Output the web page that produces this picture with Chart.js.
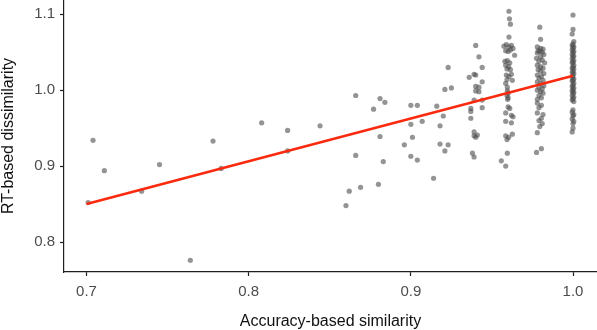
<!DOCTYPE html>
<html>
<head>
<meta charset="utf-8">
<script src="https://cdn.jsdelivr.net/npm/chart.js@4.4.1/dist/chart.umd.min.js"></script>
<style>
  body { margin: 0; background: #fff; }
  canvas { display: block; }
</style>
</head>
<body>
<canvas id="myChart" width="597" height="330"></canvas>
<script>
// tick labels
var xTicks = [0.7, 0.8, 0.9, 1.0];
var yTicks = [0.8, 0.9, 1.0, 1.1];

// scattered participants (accuracy below 0.93)
var sparseX = [0.701,0.704,0.711,0.734,0.745,0.764,0.778,0.783,0.808,0.824,0.824,0.844,0.860,0.862,0.866,0.866,0.869,0.877,0.880,0.881,0.881,0.883,0.884,0.896,0.900,0.900,0.901,0.900,0.904,0.904,0.907,0.914,0.916,0.918,0.918,0.920,0.921,0.921,0.923,0.923,0.925];
var sparseY = [0.852,0.934,0.894,0.867,0.902,0.776,0.933,0.897,0.957,0.947,0.920,0.953,0.848,0.867,0.993,0.914,0.872,0.975,0.876,0.989,0.939,0.906,0.984,0.928,0.980,0.955,0.938,0.913,0.980,0.908,0.959,0.884,0.979,0.953,0.929,0.966,1.001,0.920,0.928,1.030,1.003];

// jittered column around 0.94
var col94X = [0.940,0.942,0.944,0.936,0.939,0.940,0.944,0.940,0.942,0.940,0.942,0.939,0.944,0.937,0.937,0.944,0.937,0.939,0.941,0.940,0.939,0.938,0.939];
var col94Y = [1.059,1.044,1.030,1.017,1.021,1.020,1.011,1.005,1.004,0.999,0.998,0.987,0.987,0.976,0.972,0.977,0.963,0.945,0.941,0.938,0.940,0.917,0.912];

// jittered column around 0.96
var col96X = [0.9605,0.9608,0.9614,0.9605,0.9574,0.9589,0.9605,0.962,0.963,0.9585,0.960,0.9614,0.964,0.958,0.9595,0.961,0.9585,0.9603,0.9593,0.9614,0.9589,0.9605,0.962,0.9593,0.9626,0.9585,0.9595,0.9595,0.960,0.9593,0.960,0.9597,0.960,0.961,0.9585,0.962,0.963,0.9585,0.962,0.9585,0.9603,0.9626,0.9593,0.9595,0.9558,0.9585];
var col96Y = [1.104,1.094,1.087,1.070,1.058,1.060,1.057,1.059,1.055,1.052,1.051,1.053,1.046,1.038,1.039,1.036,1.033,1.031,1.028,1.027,1.020,1.018,1.021,1.014,1.013,1.009,1.004,0.999,0.996,0.993,0.990,0.988,0.978,0.976,0.970,0.967,0.965,0.959,0.957,0.940,0.938,0.942,0.935,0.917,0.907,0.900];

// jittered column around 0.98
var col98X = [0.9795,0.980,0.980,0.9785,0.981,0.978,0.9815,0.9795,0.978,0.982,0.980,0.9775,0.981,0.979,0.9825,0.978,0.980,0.9815,0.9785,0.980,0.982,0.978,0.9805,0.979,0.9815,0.978,0.980,0.982,0.979,0.981,0.978,0.980,0.9815,0.979,0.9805,0.978,0.978,0.9805,0.979,0.978,0.9815,0.9805,0.979,0.981,0.9795,0.978,0.9805,0.9775];
var col98Y = [1.083,1.067,1.055,1.052,1.050,1.057,1.054,1.051,1.049,1.047,1.044,1.042,1.040,1.038,1.036,1.033,1.031,1.029,1.027,1.025,1.022,1.020,1.018,1.016,1.013,1.011,1.009,1.006,1.004,1.002,1.000,0.998,0.996,0.993,0.990,0.988,0.983,0.980,0.977,0.970,0.968,0.963,0.960,0.956,0.952,0.944,0.923,0.918];

// column at 1.0 (perfect accuracy)
var col100X = [1.000,1.000,0.9995,1.0005,1.000,0.9995,1.0005,1.000,0.9995,1.0005,1.000,0.9995,1.0005,1.000,0.9995,1.0005,1.000,0.9995,1.0005,1.000,0.9995,1.0005,1.000,0.9995,1.0005,1.000,0.9995,1.0005,1.000,0.9995,1.0005,1.000,0.9995,1.0005,1.000,0.9995,1.0005,1.000,0.9995,1.0005,1.000,0.9995,1.0005,1.000,0.9995,1.0005,1.000,0.9995,1.0005,1.000,1.000,0.9995];
var col100Y = [1.099,1.080,1.074,1.064,1.061,1.059,1.057,1.056,1.053,1.051,1.050,1.047,1.045,1.044,1.041,1.039,1.037,1.036,1.033,1.031,1.029,1.028,1.025,1.023,1.022,1.019,1.017,1.015,1.013,1.012,1.009,1.007,1.005,1.003,1.001,0.999,0.997,0.996,0.993,0.991,0.989,0.987,0.985,0.974,0.971,0.968,0.966,0.962,0.959,0.956,0.950,0.945];

// fitted regression line (endpoints)
var fitX = [0.70, 1.00];
var fitY = [0.850, 1.019];

function toPoints(xs, ys) {
  return xs.map(function (x, i) { return { x: x, y: ys[i] }; });
}

var points = []
  .concat(toPoints(sparseX, sparseY))
  .concat(toPoints(col94X, col94Y))
  .concat(toPoints(col96X, col96Y))
  .concat(toPoints(col98X, col98Y))
  .concat(toPoints(col100X, col100Y));

var FONT = "'Liberation Sans', Arial, Helvetica, sans-serif";
var axisColor = '#1e1e1e';

function noPad(s) {
  s.paddingLeft = 0; s.paddingRight = 0; s.paddingTop = 0; s.paddingBottom = 0;
}

new Chart("myChart", {
  type: "scatter",
  data: {
    datasets: [{
      data: toPoints(fitX, fitY),
      showLine: true,
      borderColor: '#fa2a0e',
      borderWidth: 2.6,
      pointRadius: 0,
      pointHoverRadius: 0,
      order: 0
    }, {
      data: points,
      pointRadius: 2.6,
      pointHoverRadius: 2.6,
      pointBorderWidth: 0,
      backgroundColor: 'rgba(77,77,77,0.6)',
      borderColor: 'rgba(0,0,0,0)',
      order: 1
    }]
  },
  options: {
    responsive: false,
    animation: false,
    layout: { autoPadding: false, padding: 0 },
    plugins: {
      legend: { display: false },
      tooltip: { enabled: false }
    },
    scales: {
      x: {
        type: 'linear',
        min: 0.6861,
        max: 1.0148,
        afterBuildTicks: function (s) { s.ticks = xTicks.map(function (v) { return { value: v }; }); },
        afterFit: function (s) { s.height = 58; noPad(s); },
        ticks: {
          callback: function (v) { return v.toFixed(1); },
          font: { family: FONT, size: 15 },
          color: '#4d4d4d',
          padding: 7
        },
        grid: { drawOnChartArea: false, tickLength: 4, color: axisColor, tickWidth: 1.2 },
        border: { color: axisColor, width: 1.2 },
        title: {
          display: true,
          text: 'Accuracy-based similarity',
          font: { family: FONT, size: 16, lineHeight: 1.1 },
          color: '#111',
          padding: 0
        }
      },
      y: {
        type: 'linear',
        min: 0.7605,
        max: 1.1188,
        afterBuildTicks: function (s) { s.ticks = yTicks.map(function (v) { return { value: v }; }); },
        afterFit: function (s) { s.width = 64; noPad(s); },
        ticks: {
          callback: function (v) { return v.toFixed(1); },
          font: { family: FONT, size: 15 },
          color: '#4d4d4d',
          padding: 5
        },
        grid: { drawOnChartArea: false, tickLength: 4, color: axisColor, tickWidth: 1.2 },
        border: { color: axisColor, width: 1.2 },
        title: {
          display: true,
          text: 'RT-based dissimilarity',
          font: { family: FONT, size: 16, lineHeight: 1.1 },
          color: '#111',
          padding: 0
        }
      }
    }
  }
});
</script>
</body>
</html>
